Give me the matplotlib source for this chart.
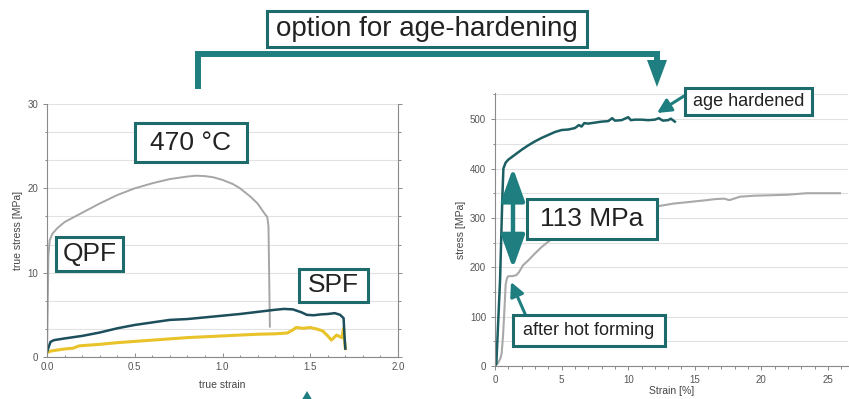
import matplotlib
matplotlib.use("Agg")
import matplotlib.pyplot as plt
from matplotlib.ticker import MultipleLocator, AutoMinorLocator
from matplotlib.patches import Rectangle, Polygon, FancyArrowPatch

plt.rcParams['font.family'] = ['Liberation Sans', 'DejaVu Sans']

# hot tensile test at 470 °C (true stress vs. true strain)
qpf_strain = [0.0, 0.004, 0.008, 0.015, 0.03, 0.06, 0.1, 0.2, 0.3, 0.4, 0.5, 0.6, 0.7, 0.8,
              0.85, 0.9, 0.95, 1.0, 1.06, 1.1, 1.16, 1.2, 1.24, 1.255, 1.262, 1.27]
qpf_stress = [0.0, 6.0, 12.0, 13.8, 14.6, 15.3, 16.0, 17.1, 18.2, 19.2, 20.0, 20.6, 21.1, 21.4,
              21.5, 21.45, 21.3, 21.0, 20.5, 20.0, 19.0, 18.2, 17.0, 16.6, 15.5, 3.6]

spf_strain = [0.0, 0.01, 0.02, 0.04, 0.1, 0.2, 0.3, 0.4, 0.5, 0.6, 0.7, 0.8, 0.9, 1.0, 1.1,
              1.2, 1.3, 1.35, 1.4, 1.45, 1.48, 1.52, 1.56, 1.6, 1.64, 1.67, 1.69, 1.695, 1.70]
spf_stress = [0.6, 1.2, 1.8, 2.0, 2.2, 2.5, 2.9, 3.4, 3.8, 4.1, 4.4, 4.5, 4.7, 4.9, 5.1,
              5.35, 5.6, 5.7, 5.65, 5.3, 5.0, 4.95, 5.05, 5.1, 5.2, 5.0, 4.6, 2.5, 1.0]

low_strain = [0.0, 0.02, 0.05, 0.1, 0.15, 0.18, 0.2, 0.3, 0.4, 0.5, 0.6, 0.7, 0.8, 0.9, 1.0,
              1.1, 1.2, 1.3, 1.37, 1.4, 1.42, 1.46, 1.5, 1.54, 1.57, 1.6, 1.62, 1.65, 1.68,
              1.69, 1.695, 1.70]
low_stress = [0.5, 0.7, 0.8, 0.95, 1.05, 1.3, 1.35, 1.5, 1.7, 1.85, 2.0, 2.15, 2.3, 2.4, 2.5,
              2.6, 2.7, 2.75, 2.85, 3.2, 3.5, 3.4, 3.5, 3.3, 3.1, 2.5, 2.0, 2.6, 2.3,
              3.4, 2.0, 1.0]

# room temperature tensile tests (engineering stress vs. strain in %)
ah_strain = [0.0, 0.1, 0.38, 0.55, 0.63, 0.8, 1.0, 1.5, 2.0, 2.5, 3.0, 3.5, 4.0, 4.5, 5.0,
             5.5, 6.0, 6.3, 6.5, 6.7, 7.0, 7.5, 8.0, 8.5, 8.8, 9.0, 9.5, 10.0, 10.2, 10.5,
             11.0, 11.5, 12.0, 12.3, 12.6, 13.0, 13.2, 13.5]
ah_stress = [0, 5, 174, 340, 400, 412, 418, 428, 438, 447, 455, 462, 468, 474, 478,
             479, 482, 488, 485, 492, 491, 493, 495, 496, 502, 497, 498, 504, 498, 499,
             499, 498, 499, 502, 497, 498, 501, 495]

hf_strain = [0.0, 0.2, 0.4, 0.5, 0.6, 0.7, 0.8, 0.9, 1.0, 1.3, 1.6, 1.8, 2.1, 2.5, 3.0, 3.5,
             4.0, 4.6, 5.2, 5.9, 7.0, 8.0, 9.0, 10.0, 11.0, 12.3, 13.4, 14.5, 15.9, 16.5,
             17.2, 17.6, 18.4, 19.5, 20.9, 22.0, 23.4, 24.5, 25.9]
hf_stress = [0, 5, 15, 26, 60, 110, 165, 178, 182, 182, 184, 190, 204, 214, 228, 241,
             252, 262, 272, 282, 292, 301, 309, 315, 320, 324, 329, 332, 336, 338,
             339, 336, 343, 345, 346, 347, 350, 350, 350]

stress_gain = 113  # MPa

W, H = 849, 399
TEAL = '#1f7f80'
EDGE = '#1e6b6c'
TXT = '#222222'
TICK = '#555555'

fig = plt.figure(figsize=(W / 100, H / 100), dpi=100)


def px_rect(x0, y0, x1, y1):
    return [x0 / W, 1 - y1 / H, (x1 - x0) / W, (y1 - y0) / H]


def style_axes(ax):
    for s in ax.spines.values():
        s.set_color('#8a8a8a')
        s.set_linewidth(0.8)
    ax.tick_params(which='both', labelsize=7, labelcolor=TICK, colors='#8a8a8a', width=0.7)
    ax.tick_params(which='major', length=3)
    ax.tick_params(which='minor', length=1.8)
    ax.grid(True, which='both', axis='y', color='#e2e2e2', lw=0.8)
    ax.set_axisbelow(True)


# left: hot forming at 470 °C
ax1 = fig.add_axes(px_rect(47, 104, 398, 357))
ax1.plot(qpf_strain, qpf_stress, color='#a6a6a6', lw=1.4)
ax1.plot(low_strain, low_stress, color='#e8c32a', lw=2.2)
ax1.plot(spf_strain, spf_stress, color='#1d4e5c', lw=1.8)
ax1.set_xlim(0, 2)
ax1.set_ylim(0, 30)
ax1.xaxis.set_major_locator(MultipleLocator(0.5))
ax1.xaxis.set_minor_locator(MultipleLocator(0.1))
ax1.yaxis.set_major_locator(MultipleLocator(10))
ax1.yaxis.set_minor_locator(AutoMinorLocator(3))
ax1.xaxis.set_major_formatter(plt.FormatStrFormatter('%.1f'))
style_axes(ax1)
ax1.spines['top'].set_visible(False)
ax1.tick_params(axis='y', which='both', right=True, direction='out')
ax1.tick_params(axis='x', which='both', direction='in')
ax1.set_xlabel('true strain', fontsize=7.5, color='#444444', labelpad=6)
ax1.set_ylabel('true stress [MPa]', fontsize=7.5, color='#444444', labelpad=3)

# right: room temperature after hot forming / after age hardening
ax2 = fig.add_axes(px_rect(495, 93, 848, 366))
ax2.plot(hf_strain, hf_stress, color='#a9a9a9', lw=1.5)
ax2.plot(ah_strain, ah_stress, color='#1c5f63', lw=1.8)
ax2.set_xlim(0, 26.5)
ax2.set_ylim(0, 553)
ax2.xaxis.set_major_locator(MultipleLocator(5))
ax2.xaxis.set_minor_locator(MultipleLocator(1))
ax2.yaxis.set_major_locator(MultipleLocator(100))
ax2.yaxis.set_minor_locator(MultipleLocator(50))
style_axes(ax2)
ax2.spines['top'].set_visible(False)
ax2.spines['right'].set_visible(False)
ax2.tick_params(axis='both', which='both', direction='out')
ax2.set_xlabel('Strain [%]', fontsize=7.5, color='#444444', labelpad=1)
ax2.set_ylabel('stress [MPa]', fontsize=7.5, color='#444444', labelpad=3)

ax2.annotate('', xy=(1.35, 401), xytext=(1.35, 198),
             arrowprops=dict(arrowstyle='<|-|>,head_length=1.0,head_width=0.36',
                             mutation_scale=20, color=TEAL, lw=3.2, shrinkA=0, shrinkB=0))

# overlay in pixel coordinates for the frames and connecting arrow
ov = fig.add_axes([0, 0, 1, 1], zorder=10)
ov.set_xlim(0, W)
ov.set_ylim(H, 0)
ov.axis('off')
ov.patch.set_alpha(0)

ov.plot([198, 198, 657, 657], [89, 54, 54, 62], color=TEAL, lw=4.3,
        solid_joinstyle='miter', solid_capstyle='butt')
ov.add_patch(Polygon([(647, 60), (667, 60), (657, 87)], closed=True, color=TEAL, lw=0))
ov.add_patch(Polygon([(300, 403), (314, 403), (307, 391)], closed=True, color=TEAL, lw=0,
                     clip_on=False))


def label_box(x0, y0, x1, y1, text, size):
    ov.add_patch(Rectangle((x0, y0), x1 - x0, y1 - y0, fc='white', ec=EDGE, lw=2.2, zorder=3))
    ov.text((x0 + x1) / 2, (y0 + y1) / 2, text, fontsize=size, color=TXT,
            ha='center', va='center', zorder=4)


# pointer arrows from the small labels to the curves
ov.add_patch(FancyArrowPatch((684, 96), (657, 113),
                             arrowstyle='-|>,head_length=0.7,head_width=0.35',
                             mutation_scale=12, color=TEAL, lw=2.2, shrinkA=0, shrinkB=0,
                             zorder=2))
ov.add_patch(FancyArrowPatch((526, 316), (511, 282),
                             arrowstyle='-|>,head_length=0.7,head_width=0.35',
                             mutation_scale=12, color=TEAL, lw=2.2, shrinkA=0, shrinkB=0,
                             zorder=2))

label_box(267, 11, 587, 47, 'option for age-hardening', 20)
label_box(135, 123, 247, 162, '470 °C', 19)
label_box(56, 237, 123, 271, 'QPF', 19)
label_box(299, 269, 368, 302, 'SPF', 19)
label_box(685, 88, 812, 115, 'age hardened', 13)
label_box(527, 199, 657, 239, f'{stress_gain} MPa', 19)
label_box(513, 315, 665, 346, 'after hot forming', 13)

fig.savefig('out.png', dpi=100)
